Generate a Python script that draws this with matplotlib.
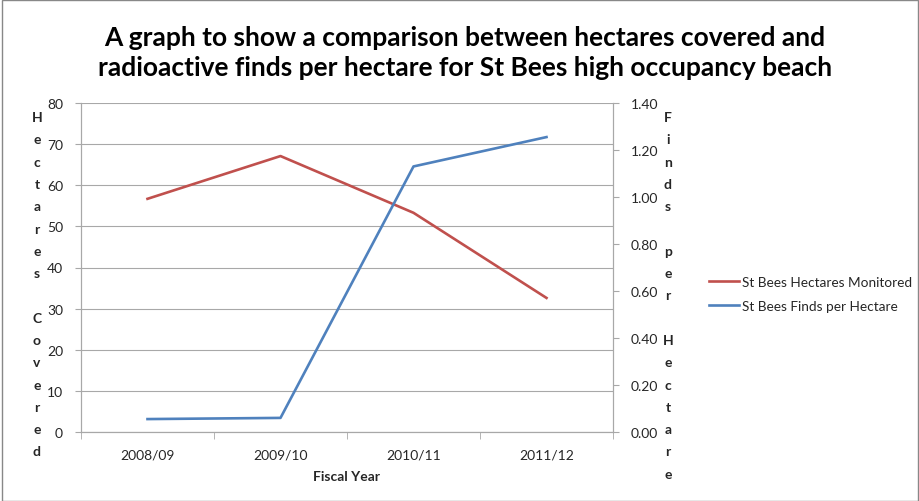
import matplotlib
matplotlib.use("Agg")
import matplotlib.pyplot as plt
from matplotlib.patches import Rectangle

plt.rcParams['font.family'] = ['Lato', 'DejaVu Sans']

# data
years = ['2008/09', '2009/10', '2010/11', '2011/12']
hectares = [56.7, 67.1, 53.3, 32.6]
finds_per_ha = [0.055, 0.06, 1.13, 1.255]

red = '#C0504D'
blue = '#4F81BD'
grid_col = '#A8A8A8'
txt = '#262626'

W, H = 920, 502
fig = plt.figure(figsize=(W / 100, H / 100), dpi=100)
ax = fig.add_axes([81 / W, 1 - 433 / H, (613 - 81) / W, (433 - 104) / H])
ax2 = ax.twinx()

x = list(range(len(years)))
ax.plot(x, hectares, color=red, lw=1.9, label='St Bees Hectares Monitored')
ax2.plot(x, finds_per_ha, color=blue, lw=1.9, label='St Bees Finds per Hectare')

ax.set_xlim(-0.5, len(years) - 0.5)
ax.set_ylim(0, 80)
ax.set_yticks(range(0, 81, 10))
ax2.set_ylim(0, 1.4)
ax2.set_yticks([i * 0.2 for i in range(8)])
ax2.set_yticklabels(['%.2f' % (i * 0.2) for i in range(8)])

ax.set_xticks(x)
ax.set_xticklabels(years)
ax.set_xticks([i - 0.5 for i in range(len(years) + 1)], minor=True)
ax.tick_params(axis='x', which='major', length=0, pad=12, labelsize=10, colors=txt)
ax.tick_params(axis='x', which='minor', length=5, color=grid_col)
ax.tick_params(axis='y', length=4, color=grid_col, labelsize=10, labelcolor=txt, pad=9)
ax2.tick_params(axis='y', length=4, color=grid_col, labelsize=10, labelcolor=txt, pad=9)

ax.grid(axis='y', color=grid_col, lw=0.8)
ax.set_axisbelow(True)
for a in (ax, ax2):
    a.spines['top'].set_visible(False)
    for s in ('left', 'right', 'bottom'):
        a.spines[s].set_color(grid_col)
        a.spines[s].set_linewidth(0.8)

ax.set_xlabel('Fiscal Year', fontsize=10, fontweight='bold', color=txt, labelpad=7)

# stacked vertical axis titles, one letter per line
def stacked(label, xpix, ytop):
    for i, ch in enumerate(label):
        fig.text(xpix / W, 1 - (ytop + i * 22.3) / H, ch, ha='center', va='center',
                 fontsize=10, fontweight='bold', color=txt)

stacked('Hectares Covered', 37, 118)
stacked('Finds per Hectare', 668, 118)

fig.text(0.505, 1 - 53 / H,
         'A graph to show a comparison between hectares covered and\n'
         'radioactive finds per hectare for St Bees high occupancy beach',
         ha='center', va='center', fontsize=19, fontweight='bold', color='black',
         linespacing=1.3)

h1, l1 = ax.get_legend_handles_labels()
h2, l2 = ax2.get_legend_handles_labels()
fig.legend(h1 + h2, l1 + l2, loc='center left', bbox_to_anchor=(697 / W, 1 - 295 / H),
           frameon=False, fontsize=9.8, handlelength=2.2, handletextpad=0.2,
           labelspacing=0.9, labelcolor=txt)

fig.patches.append(Rectangle((2 / W, 0), 1 - 4 / W, 1 - 1 / H, transform=fig.transFigure,
                             fill=False, edgecolor='#888888', lw=1.0))

fig.savefig('out.png', dpi=100)
